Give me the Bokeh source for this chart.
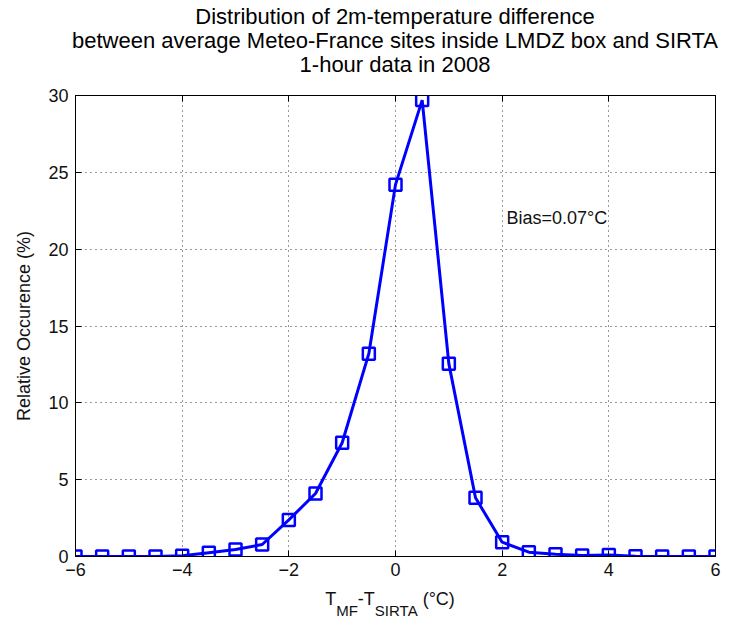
from bokeh.plotting import figure
from bokeh.models import Range1d, LinearAxis, FixedTicker, Label, Div
from bokeh.layouts import column
from bokeh.embed import file_html
from bokeh.resources import INLINE

# ---- data ----
dt = [-6.0, -5.5, -5.0, -4.5, -4.0, -3.5, -3.0, -2.5, -2.0, -1.5, -1.0, -0.5,
      0.0, 0.5, 1.0, 1.5, 2.0, 2.5, 3.0, 3.5, 4.0, 4.5, 5.0, 5.5, 6.0]
occurrence = [0.0, 0.0, 0.0, 0.0, 0.05, 0.25, 0.45, 0.78, 2.38, 4.1, 7.4, 13.2,
              24.2, 29.7, 12.55, 3.82, 0.93, 0.28, 0.15, 0.07, 0.1, 0.02, 0.0, 0.0, 0.0]
x_ticks = [-6, -4, -2, 0, 2, 4, 6]
y_ticks = [0, 5, 10, 15, 20, 25, 30]
title_lines = ["Distribution of 2m-temperature difference",
               "between average Meteo-France sites inside LMDZ box and SIRTA",
               "1-hour data in 2008"]
bias_text = "Bias=0.07°C"
y_label = "Relative Occurence (%)"

FONT = "Liberation Sans"
TXT = "#111111"

# ---- title (HTML text, centred over the axes) ----
title_html = (
    f'<div style="width:720px;margin-left:35px;text-align:center;'
    f'font-family:\'{FONT}\';font-size:22px;line-height:24px;color:black;'
    f'padding-top:5px;white-space:nowrap;">'
    + "<br>".join(title_lines) + "</div>")
title_div = Div(text=title_html, width=755, height=80, margin=0)

# ---- main figure ----
p = figure(width=755, height=508, output_backend="svg", toolbar_location=None,
           x_range=Range1d(-6, 6), y_range=Range1d(0, 30),
           min_border_left=75, min_border_right=40, min_border_top=15, min_border_bottom=32,
           margin=0)
p.background_fill_color = "white"
p.border_fill_color = "white"
p.outline_line_color = "black"
p.outline_line_width = 1

for ax in (p.xaxis[0], p.yaxis[0]):
    ax.major_label_text_font = FONT
    ax.major_label_text_font_size = "18px"
    ax.major_label_text_color = TXT
    ax.axis_line_color = "black"
    ax.major_tick_line_color = "black"
    ax.major_tick_in = 6
    ax.major_tick_out = 0
    ax.minor_tick_line_color = None
p.xaxis[0].ticker = FixedTicker(ticks=x_ticks)
p.yaxis[0].ticker = FixedTicker(ticks=y_ticks)
p.xaxis[0].major_label_standoff = 6
p.yaxis[0].major_label_standoff = 7
p.yaxis[0].axis_label = y_label
p.yaxis[0].axis_label_text_font = FONT
p.yaxis[0].axis_label_text_font_size = "18px"
p.yaxis[0].axis_label_text_font_style = "normal"
p.yaxis[0].axis_label_text_color = TXT
p.yaxis[0].axis_label_standoff = 11

# top / right inward ticks (MATLAB box)
top = LinearAxis(ticker=FixedTicker(ticks=x_ticks), major_label_text_color=None,
                 major_tick_in=6, major_tick_out=0, minor_tick_line_color=None,
                 axis_line_color="black", major_label_text_font_size="1px",
                 major_label_standoff=0)
right = LinearAxis(ticker=FixedTicker(ticks=y_ticks), major_label_text_color=None,
                   major_tick_in=6, major_tick_out=0, minor_tick_line_color=None,
                   axis_line_color="black", major_label_text_font_size="1px",
                   major_label_standoff=0)
p.add_layout(top, "above")
p.add_layout(right, "right")

p.xgrid[0].ticker = FixedTicker(ticks=x_ticks)
p.ygrid[0].ticker = FixedTicker(ticks=y_ticks)
for g in (p.xgrid[0], p.ygrid[0]):
    g.grid_line_color = "black"
    g.grid_line_alpha = 0.8
    g.grid_line_dash = "1 4"
    g.grid_line_width = 1

p.line(dt, occurrence, line_color="#0000ff", line_width=3)
p.scatter(dt, occurrence, marker="square", size=12, line_color="#0000ff",
          line_width=2.5, fill_alpha=0)

p.add_layout(Label(x=2.08, y=22.05, text=bias_text, text_font=FONT, text_font_size="18px",
                   text_color=TXT, text_baseline="alphabetic", text_align="left"))

# ---- x-axis label with subscripts (HTML text) ----
sub = "position:relative;top:11px;font-size:15px;"
xlabel_html = (
    f'<div style="width:720px;margin-left:30px;text-align:center;'
    f'font-family:\'{FONT}\';font-size:18px;line-height:20px;color:{TXT};'
    f'padding-top:1px;white-space:nowrap;">'
    f'T<span style="{sub}">MF</span>-T<span style="{sub}">SIRTA</span> (°C)</div>')
xlabel_div = Div(text=xlabel_html, width=755, height=30, margin=0)

layout = column(title_div, p, xlabel_div, spacing=0, margin=0)
open("out.html", "w").write(file_html(layout, INLINE))
